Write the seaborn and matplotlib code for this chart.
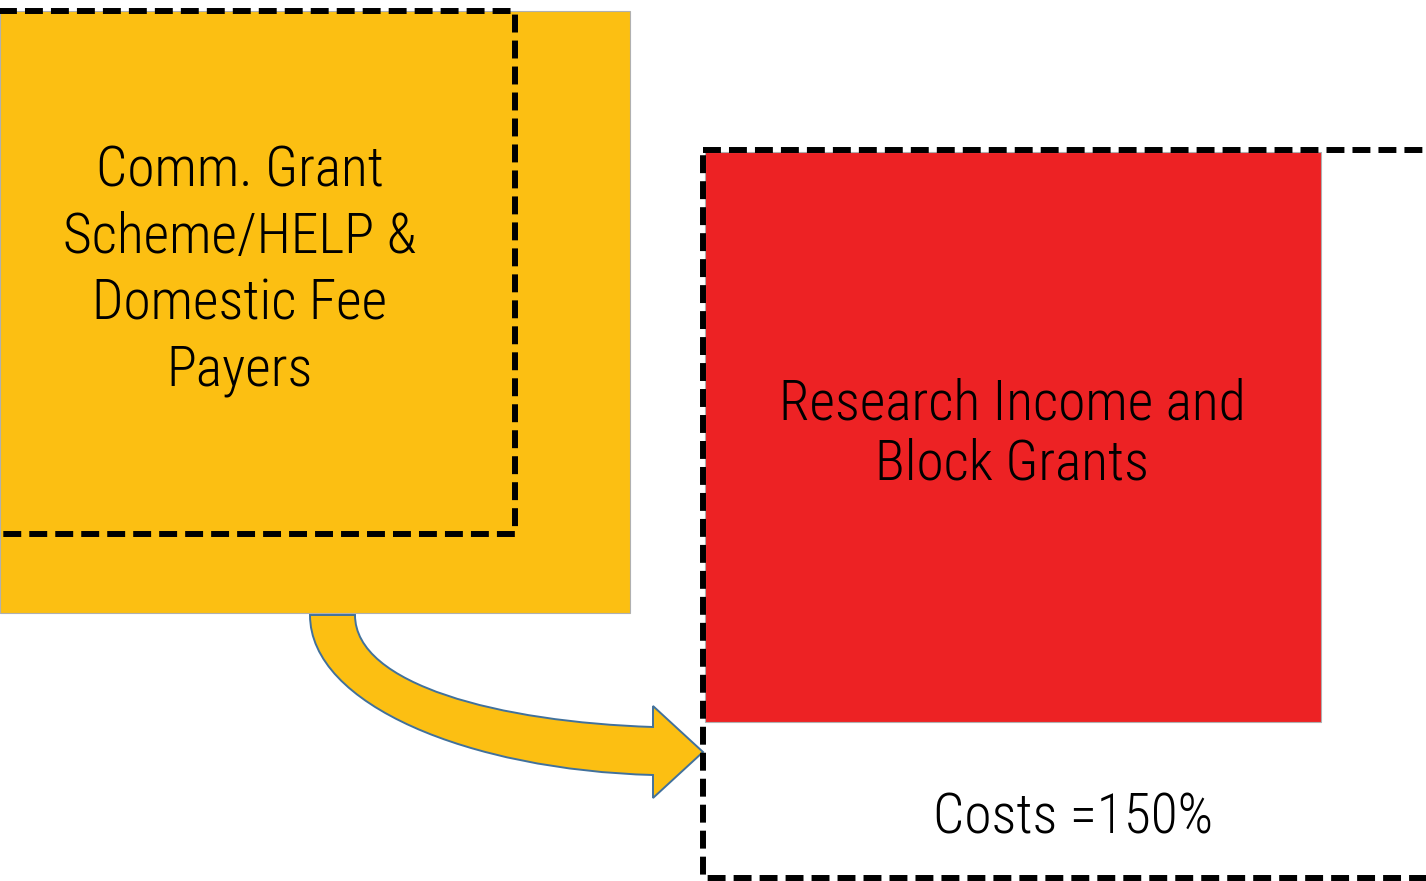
import numpy as np
import pandas as pd
import matplotlib
matplotlib.use("Agg")
import matplotlib.pyplot as plt
import seaborn as sns
from matplotlib.patches import Rectangle, PathPatch
from matplotlib.path import Path

# ============================================================
# DATA
# ============================================================
box_names = ["teaching", "research"]
box_labels = [
    "Comm. Grant\nScheme/HELP &\nDomestic Fee\nPayers",
    "Research Income and\nBlock Grants",
]
cost_label = "Costs =150%"

# ============================================================
# STYLE
# ============================================================
sns.set_theme(style="white")
plt.rcParams["font.family"] = ["Roboto Condensed", "Roboto", "DejaVu Sans"]

YELLOW = "#FCBF12"
RED = "#ED2224"
OUTLINE = "#41719C"

W, H = 1426, 881
fig = plt.figure(figsize=(W / 100, H / 100), dpi=100)
ax = fig.add_axes([0, 0, 1, 1])
ax.set_xlim(0, W)
ax.set_ylim(H, 0)
ax.axis("off")

# filled boxes (x0, y0, x1, y1) in pixel space
boxes = pd.DataFrame({
    "name": box_names,
    "label": box_labels,
    "x0": [0, 705], "y0": [11, 152], "x1": [630, 1321], "y1": [613, 722],
    "color": [YELLOW, RED],
})

for _, b in boxes.iterrows():
    ax.add_patch(Rectangle((b.x0, b.y0), b.x1 - b.x0, b.y1 - b.y0,
                           facecolor=b.color, edgecolor="#b0b0b0", lw=0.8, zorder=1))

# ============================================================
# CURVED ARROW
# ============================================================
verts = [
    (310, 615),
    (310, 705), (470, 770), (653, 775),   # outer curve
    (653, 798), (703, 752), (653, 706), (653, 727),  # head
    (500, 722), (355, 685), (355, 615),   # inner curve back
    (310, 615),
]
codes = [Path.MOVETO,
         Path.CURVE4, Path.CURVE4, Path.CURVE4,
         Path.LINETO, Path.LINETO, Path.LINETO, Path.LINETO,
         Path.CURVE4, Path.CURVE4, Path.CURVE4,
         Path.CLOSEPOLY]
ax.add_patch(PathPatch(Path(verts, codes), facecolor=YELLOW, edgecolor=OUTLINE,
                       lw=1.4, zorder=2))

# ============================================================
# DASHED OUTLINES
# ============================================================
dash = (0, (3.0, 1.35))
ax.add_patch(Rectangle((-30, 11), 545, 523, fill=False, edgecolor="black",
                       lw=4.3, linestyle=dash, zorder=3))
ax.add_patch(Rectangle((703, 150), 760, 728, fill=False, edgecolor="black",
                       lw=4.3, linestyle=dash, zorder=3))

# ============================================================
# TEXT
# ============================================================
txt_kw = dict(ha="center", va="center", fontsize=40, fontweight="light",
              color="black", zorder=4)
ax.text(240, 271, box_labels[0], linespacing=1.32, **txt_kw)
ax.text(1012, 434, box_labels[1], linespacing=1.15, **txt_kw)
ax.text(1073, 818, cost_label, **txt_kw)

fig.savefig("out.png", dpi=100)
